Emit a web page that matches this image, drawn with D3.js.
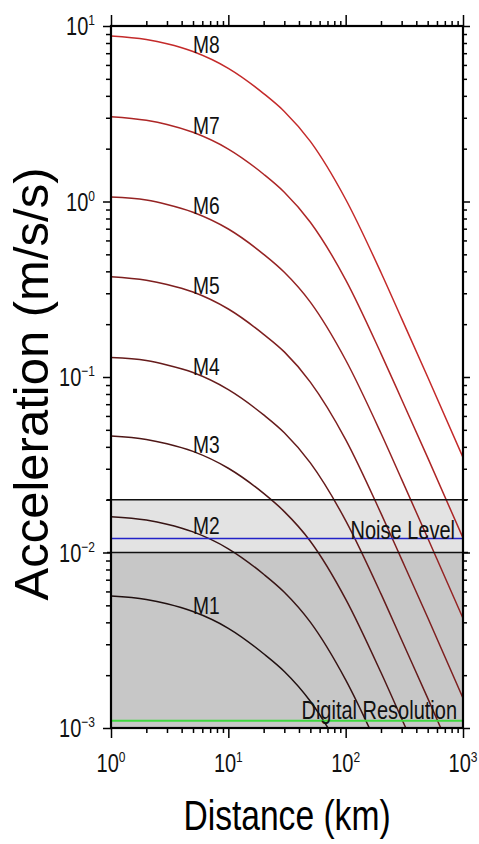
<!DOCTYPE html>
<html>
<head>
<meta charset="utf-8">
<script src="https://cdn.jsdelivr.net/npm/d3@7"></script>
<style>
  body { margin: 0; background: #fff; }
  svg { display: block; }
  text { font-family: "Liberation Sans", Arial, sans-serif; }
</style>
</head>
<body>
<div id="graphCanvas"></div>
<script>
var width = 479, height = 844;
var plotLeft = 111, plotRight = 463, plotTop = 26, plotBottom = 728;
var squeeze = 0.8; // the original uses a condensed Helvetica

// distances (km)
var distances = [1, 2, 3, 5, 10, 20, 30, 50, 100, 200, 300, 500, 1000];

// acceleration (m/s/s) for each magnitude
var m8 = [8.77, 8.37, 7.93, 7.16, 5.74, 4.12, 3.26, 2.20, 1.03, 0.394, 0.215, 0.100, 0.0348];
var m7 = [3.04, 2.90, 2.75, 2.48, 1.99, 1.43, 1.13, 0.762, 0.358, 0.136, 0.0745, 0.0347, 0.0121];
var m6 = [1.06, 1.02, 0.962, 0.869, 0.697, 0.500, 0.395, 0.267, 0.125, 0.0478, 0.0261, 0.0121, 0.00422];
var m5 = [0.373, 0.356, 0.337, 0.305, 0.244, 0.175, 0.139, 0.0935, 0.0440, 0.0167, 0.00914, 0.00426, 0.00148];
var m4 = [0.129, 0.124, 0.117, 0.106, 0.0847, 0.0608, 0.0481, 0.0324, 0.0152, 0.00581, 0.00317, 0.00148, 0.000513];
var m3 = [0.0461, 0.0441, 0.0417, 0.0377, 0.0302, 0.0217, 0.0171, 0.0116, 0.00543, 0.00207, 0.00113, 0.000526, 0.000183];
var m2 = [0.0160, 0.0153, 0.0145, 0.0131, 0.0105, 0.00752, 0.00594, 0.00401, 0.00188, 0.000718, 0.000392, 0.000182, 0.0000634];
var m1 = [0.00565, 0.00540, 0.00511, 0.00461, 0.00370, 0.00265, 0.00210, 0.00142, 0.000665, 0.000254, 0.000138, 0.0000644, 0.0000224];

var magnitudes = ["M1", "M2", "M3", "M4", "M5", "M6", "M7", "M8"];
var seriesValues = [m1, m2, m3, m4, m5, m6, m7, m8];

// shaded bands and reference levels
var noiseBand = [0.01, 0.02];
var noiseLevel = 0.012;
var digitalResolution = 0.0011;

var xDomain = [1, 1000];
var yDomain = [0.001, 10];

var x = d3.scaleLog().domain(xDomain).range([plotLeft, plotRight]);
var y = d3.scaleLog().domain(yDomain).range([plotBottom, plotTop]);

var svg = d3.select("#graphCanvas").append("svg").attr("width", width).attr("height", height);

svg.append("defs").append("clipPath").attr("id", "plotClip")
    .append("rect").attr("x", plotLeft).attr("y", plotTop)
    .attr("width", plotRight - plotLeft).attr("height", plotBottom - plotTop);

var plot = svg.append("g").attr("clip-path", "url(#plotClip)");

// below the noise floor
plot.append("rect")
    .attr("x", plotLeft).attr("width", plotRight - plotLeft)
    .attr("y", y(noiseBand[0])).attr("height", y(yDomain[0]) - y(noiseBand[0]))
    .style("fill", "#c7c7c7");
plot.append("rect")
    .attr("x", plotLeft).attr("width", plotRight - plotLeft)
    .attr("y", y(noiseBand[1])).attr("height", y(noiseBand[0]) - y(noiseBand[1]))
    .style("fill", "#e3e3e3");

var colour = d3.interpolateRgb("#201010", "#c42a2a");

var line = d3.line()
    .x(function(d) { return x(d[0]); })
    .y(function(d) { return y(d[1]); })
    .curve(d3.curveMonotoneX);

var series = magnitudes.map(function(name, i) {
    return { name: name, values: seriesValues[i], colour: colour(i / 7) };
});

plot.selectAll(".curve").data(series).enter().append("path")
    .attr("class", "curve")
    .attr("d", function(s) { return line(d3.zip(distances, s.values)); })
    .style("fill", "none")
    .style("stroke", function(s) { return s.colour; })
    .style("stroke-width", 1.5);

plot.append("line")
    .attr("x1", plotLeft).attr("x2", plotRight).attr("y1", y(noiseLevel)).attr("y2", y(noiseLevel))
    .style("stroke", "#2323c8").style("stroke-width", 1.5);
plot.append("line")
    .attr("x1", plotLeft).attr("x2", plotRight)
    .attr("y1", y(digitalResolution)).attr("y2", y(digitalResolution))
    .style("stroke", "#3ed83e").style("stroke-width", 2);

// band edges, a little past the frame
svg.selectAll(".band").data(noiseBand).enter().append("line")
    .attr("class", "band")
    .attr("x1", plotLeft - 4).attr("x2", plotRight + 5)
    .attr("y1", function(d) { return y(d); }).attr("y2", function(d) { return y(d); })
    .style("stroke", "#111").style("stroke-width", 1.5);

// condensed text: a group squeezed horizontally around its anchor point
function narrowText(px, py, anchor, size) {
    return svg.append("g")
        .attr("transform", "translate(" + px + "," + py + ") scale(" + squeeze + ",1)")
        .append("text")
        .attr("text-anchor", anchor)
        .style("font-size", size + "px")
        .style("fill", "#111");
}

// magnitude labels sit on their curve
series.forEach(function(s) {
    narrowText(x(5), y(s.values[3]) + 2, "start", 24).text(s.name);
});

narrowText(455, y(noiseLevel), "end", 25).text("Noise Level");
narrowText(457, y(digitalResolution) - 2, "end", 25).text("Digital Resolution");

// ticks: majors at decades, minors at 2..9
function isDecade(d) { return Math.abs(Math.round(Math.log10(d)) - Math.log10(d)) < 1e-9; }
var xMajor = x.ticks().filter(isDecade);
var xMinor = x.ticks().filter(function(d) { return !isDecade(d); });
var yMajor = y.ticks().filter(isDecade);
var yMinor = y.ticks().filter(function(d) { return !isDecade(d); });

function tickAxis(axisFn, scale, values, size, transform) {
    var g = svg.append("g").attr("transform", transform)
        .call(axisFn(scale).tickValues(values).tickSize(size).tickFormat(""));
    g.select(".domain").remove();
    g.selectAll("line").style("stroke", "#000").style("stroke-width", 1.5);
}

tickAxis(d3.axisBottom, x, xMinor, 5, "translate(0," + plotBottom + ")");
tickAxis(d3.axisBottom, x, xMajor, 10, "translate(0," + plotBottom + ")");
tickAxis(d3.axisTop, x, xMinor, 5, "translate(0," + plotTop + ")");
tickAxis(d3.axisTop, x, xMajor, 11, "translate(0," + plotTop + ")");
tickAxis(d3.axisLeft, y, yMinor, 5, "translate(" + plotLeft + ",0)");
tickAxis(d3.axisLeft, y, yMajor, 8, "translate(" + plotLeft + ",0)");
tickAxis(d3.axisRight, y, yMinor, 4, "translate(" + plotRight + ",0)");
tickAxis(d3.axisRight, y, yMajor, 7, "translate(" + plotRight + ",0)");

// frame
svg.append("rect")
    .attr("x", plotLeft).attr("y", plotTop)
    .attr("width", plotRight - plotLeft).attr("height", plotBottom - plotTop)
    .style("fill", "none").style("stroke", "#000").style("stroke-width", 2.2);

function powerLabel(t, d) {
    var e = Math.round(Math.log10(d));
    t.append("tspan").text("10");
    t.append("tspan").attr("dy", -10).style("font-size", "15px")
        .text(e < 0 ? "\u2212" + (-e) : String(e));
}

xMajor.forEach(function(d) {
    powerLabel(narrowText(x(d), plotBottom + 44, "middle", 25), d);
});
yMajor.forEach(function(d) {
    powerLabel(narrowText(plotLeft - 16, y(d) + 9, "end", 25), d);
});

narrowText((plotLeft + plotRight) / 2, 830, "middle", 42)
    .style("fill", "#000")
    .text("Distance (km)");

svg.append("text")
    .attr("transform", "translate(48,384) rotate(-90)")
    .attr("text-anchor", "middle")
    .style("font-size", "49px").style("fill", "#000")
    .text("Acceleration (m/s/s)");
</script>
</body>
</html>
